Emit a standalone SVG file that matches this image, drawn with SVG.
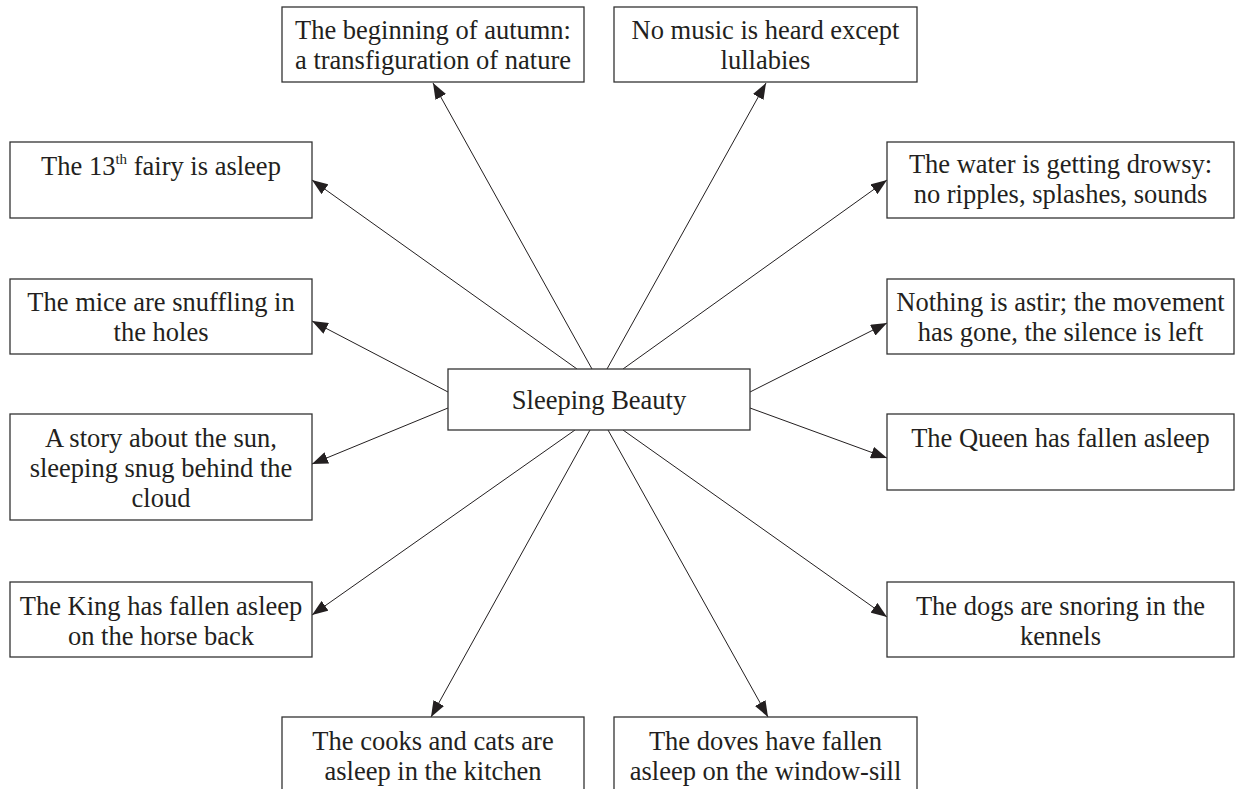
<svg xmlns="http://www.w3.org/2000/svg" width="1236" height="789" viewBox="0 0 1236 789">
<style>
.box{fill:#fff;stroke:#333;stroke-width:1.3}
.t{font-family:"Liberation Serif","Times New Roman",serif;font-size:26.5px;fill:#231f20;text-anchor:middle}
.c{stroke:#231f20;stroke-width:1;fill:none;marker-end:url(#ah)}
</style>
<defs>
<marker id="ah" viewBox="0 0 16 12" refX="16" refY="6" markerWidth="16" markerHeight="12" markerUnits="userSpaceOnUse" orient="auto">
<path d="M0,0 L16,6 L0,12 Z" fill="#231f20"/>
</marker>
</defs>
<rect width="1236" height="789" fill="#fff"/>
<g id="connectors">
<line class="c" x1="592" y1="369" x2="433" y2="83"/>
<line class="c" x1="607" y1="369" x2="766" y2="83"/>
<line class="c" x1="577" y1="369" x2="312" y2="180"/>
<line class="c" x1="623" y1="369" x2="887" y2="180"/>
<line class="c" x1="448" y1="392" x2="312" y2="321"/>
<line class="c" x1="750" y1="392" x2="887" y2="323"/>
<line class="c" x1="448" y1="408" x2="312" y2="464"/>
<line class="c" x1="750" y1="408" x2="887" y2="458"/>
<line class="c" x1="575" y1="430" x2="312" y2="615"/>
<line class="c" x1="623" y1="430" x2="887" y2="617"/>
<line class="c" x1="590" y1="430" x2="431" y2="717"/>
<line class="c" x1="608" y1="430" x2="768" y2="717"/>
</g>
<g id="center">
<rect class="box" x="448" y="369" width="302" height="61"/>
<text class="t" x="599" y="409">Sleeping Beauty</text>
</g>
<g id="autumn">
<rect class="box" x="282" y="7" width="302" height="75"/>
<text class="t" x="433" y="39">The beginning of autumn:</text>
<text class="t" x="433" y="69">a transfiguration of nature</text>
</g>
<g id="music">
<rect class="box" x="614" y="7" width="303" height="75"/>
<text class="t" x="765.5" y="39">No music is heard except</text>
<text class="t" x="765.5" y="69">lullabies</text>
</g>
<g id="fairy">
<rect class="box" x="10" y="142" width="302" height="76"/>
<text class="t" x="161" y="175">The 13<tspan font-size="15" dy="-11">th</tspan><tspan dy="11"> fairy is asleep</tspan></text>
</g>
<g id="water">
<rect class="box" x="887" y="142" width="347" height="76"/>
<text class="t" x="1060.5" y="173">The water is getting drowsy:</text>
<text class="t" x="1060.5" y="203">no ripples, splashes, sounds</text>
</g>
<g id="mice">
<rect class="box" x="10" y="279" width="302" height="75"/>
<text class="t" x="161" y="311">The mice are snuffling in</text>
<text class="t" x="161" y="341">the holes</text>
</g>
<g id="astir">
<rect class="box" x="887" y="279" width="347" height="75"/>
<text class="t" x="1060.5" y="311">Nothing is astir; the movement</text>
<text class="t" x="1060.5" y="341">has gone, the silence is left</text>
</g>
<g id="sun">
<rect class="box" x="10" y="414" width="302" height="106"/>
<text class="t" x="161" y="447">A story about the sun,</text>
<text class="t" x="161" y="477">sleeping snug behind the</text>
<text class="t" x="161" y="507">cloud</text>
</g>
<g id="queen">
<rect class="box" x="887" y="414" width="347" height="76"/>
<text class="t" x="1060.5" y="447">The Queen has fallen asleep</text>
</g>
<g id="king">
<rect class="box" x="10" y="582" width="302" height="75"/>
<text class="t" x="161" y="615">The King has fallen asleep</text>
<text class="t" x="161" y="645">on the horse back</text>
</g>
<g id="dogs">
<rect class="box" x="887" y="582" width="347" height="75"/>
<text class="t" x="1060.5" y="615">The dogs are snoring in the</text>
<text class="t" x="1060.5" y="645">kennels</text>
</g>
<g id="cooks">
<rect class="box" x="282" y="717" width="302" height="76"/>
<text class="t" x="433" y="750">The cooks and cats are</text>
<text class="t" x="433" y="780">asleep in the kitchen</text>
</g>
<g id="doves">
<rect class="box" x="614" y="717" width="303" height="76"/>
<text class="t" x="765.5" y="750">The doves have fallen</text>
<text class="t" x="765.5" y="780">asleep on the window-sill</text>
</g>
</svg>
